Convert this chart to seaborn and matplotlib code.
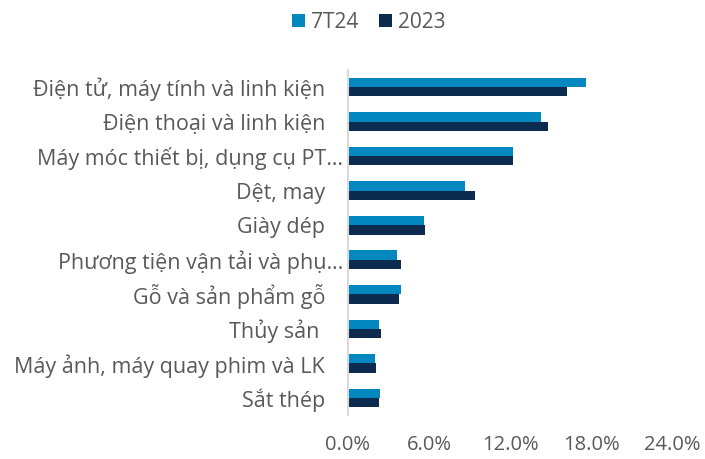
import matplotlib
matplotlib.use("Agg")
import matplotlib.pyplot as plt
import matplotlib.transforms as mtransforms
import seaborn as sns
import pandas as pd

categories = [
    "Điện tử, máy tính và linh kiện",
    "Điện thoại và linh kiện",
    "Máy móc thiết bị, dụng cụ PT…",
    "Dệt, may",
    "Giày dép",
    "Phương tiện vận tải và phụ…",
    "Gỗ và sản phẩm gỗ",
    "Thủy sản ",
    "Máy ảnh, máy quay phim và LK",
    "Sắt thép",
]
series_names = ["7T24", "2023"]
values_7t24 = [17.6, 14.3, 12.2, 8.7, 5.6, 3.65, 3.9, 2.3, 2.0, 2.37]
values_2023 = [16.2, 14.8, 12.2, 9.4, 5.7, 3.95, 3.75, 2.47, 2.1, 2.3]
xticks = [0, 6, 12, 18, 24]
xtick_labels = ["0.0%", "6.0%", "12.0%", "18.0%", "24.0%"]
truncated = {"Máy móc thiết bị, dụng cụ PT…", "Phương tiện vận tải và phụ…"}

colors = ["#0287BF", "#0D2B4E"]
text_color = "#595959"

sns.set_theme(style="white")
plt.rcParams["font.family"] = ["Open Sans", "DejaVu Sans"]

df = pd.DataFrame({
    "category": categories * 2,
    "series": [series_names[0]] * len(categories) + [series_names[1]] * len(categories),
    "value": values_7t24 + values_2023,
})

fig = plt.figure(figsize=(7.05, 4.59), dpi=100)
ax = fig.add_axes([348 / 705, 1 - 415.3 / 459, (672 - 348) / 705, (415.3 - 69.7) / 459])

sns.barplot(data=df, y="category", x="value", hue="series", orient="h",
            palette=colors, width=0.54, ax=ax, order=categories,
            hue_order=series_names, saturation=1, legend=True,
            linewidth=0, gap=0)

ax.set_xlim(0, 24)
ax.set_ylim(len(categories) - 0.5, -0.5)
ax.set_xticks(xticks)
ax.set_xticklabels(xtick_labels)
ax.set_xlabel("")
ax.set_ylabel("")

for s in ["top", "right", "bottom"]:
    ax.spines[s].set_visible(False)
ax.spines["left"].set_color("#D9D9D9")
ax.spines["left"].set_linewidth(1.5)

ax.tick_params(axis="x", length=0, pad=14, labelsize=14.5, labelcolor=text_color)
ax.tick_params(axis="y", length=0, pad=16.5, labelsize=15.5, labelcolor=text_color)

for lab in ax.get_yticklabels():
    if lab.get_text() in truncated:
        lab.set_transform(lab.get_transform() +
                          mtransforms.ScaledTranslation(13 / 72, 0, fig.dpi_scale_trans))

handles, labels = ax.get_legend_handles_labels()
ax.get_legend().remove()
fig.legend(handles, labels, loc="upper center", bbox_to_anchor=(0.523, 1.015),
           ncol=2, frameon=False, handlelength=0.6, handleheight=0.6,
           handletextpad=0.3, columnspacing=1.0, fontsize=15,
           labelcolor=text_color)

fig.savefig("out.png", dpi=100)
